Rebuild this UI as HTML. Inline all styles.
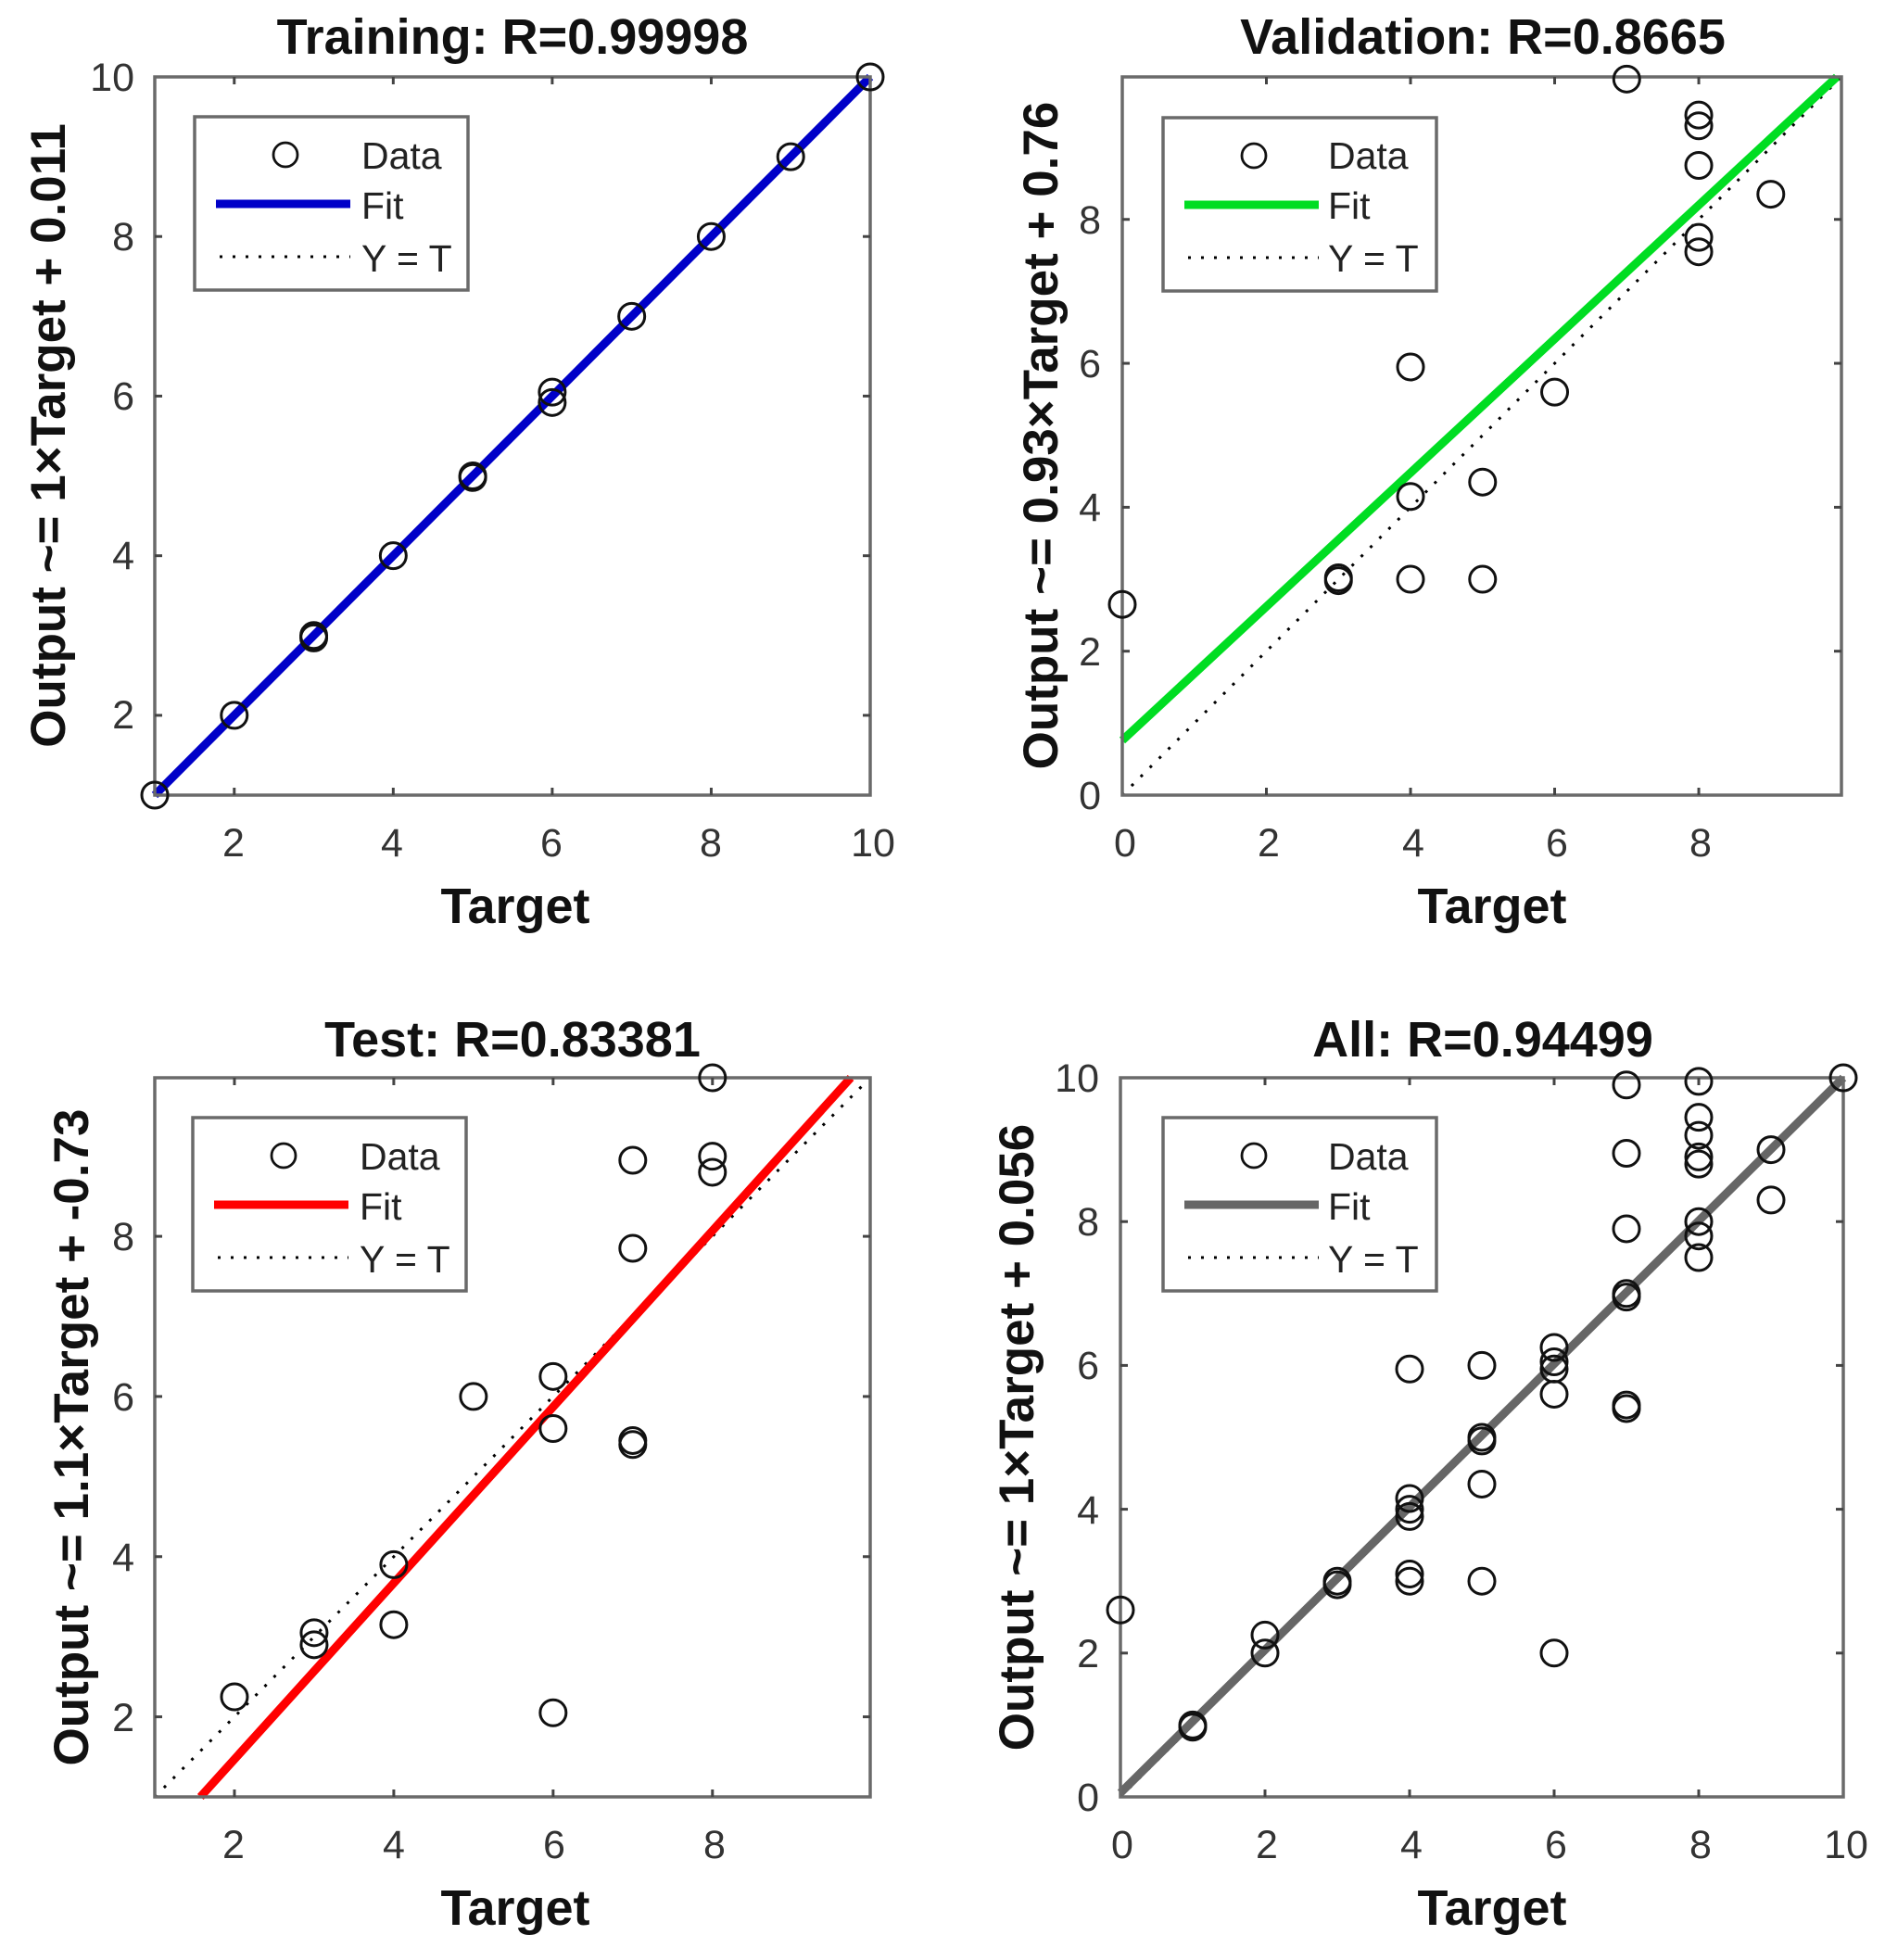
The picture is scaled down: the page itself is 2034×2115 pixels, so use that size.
<!DOCTYPE html>
<html><head><meta charset="utf-8"><style>
html,body{margin:0;padding:0;background:#fff;}
svg{display:block;font-family:"Liberation Sans",Arial,sans-serif;}
.tk{font-size:43px;fill:#333;}
.tt{font-size:54px;font-weight:bold;fill:#111;}
.yl{font-size:53px;font-weight:bold;fill:#111;}
.lg{font-size:41px;fill:#222;}
</style></head><body>
<svg id="s" width="2034" height="2115" viewBox="0 0 2034 2115" xmlns="http://www.w3.org/2000/svg">
<rect width="2034" height="2115" fill="#fff"/>
<text class="tt" x="553" y="58" text-anchor="middle">Training: R=0.99998</text>
<text class="tt" x="1600" y="58" text-anchor="middle">Validation: R=0.8665</text>
<text class="tt" x="553" y="1140" text-anchor="middle">Test: R=0.83381</text>
<text class="tt" x="1600" y="1140" text-anchor="middle">All: R=0.94499</text>
<text class="tt" x="556" y="996" text-anchor="middle">Target</text>
<text class="tt" x="1610" y="996" text-anchor="middle">Target</text>
<text class="tt" x="556" y="2077" text-anchor="middle">Target</text>
<text class="tt" x="1610" y="2077" text-anchor="middle">Target</text>
<text class="yl" transform="translate(70,470) rotate(-90)" text-anchor="middle">Output ~= 1×Target + 0.011</text>
<text class="yl" transform="translate(1141,470) rotate(-90)" text-anchor="middle">Output ~= 0.93×Target + 0.76</text>
<text class="yl" transform="translate(95,1551) rotate(-90)" text-anchor="middle">Output ~= 1.1×Target + -0.73</text>
<text class="yl" transform="translate(1115,1551) rotate(-90)" text-anchor="middle">Output ~= 1×Target + 0.056</text>
<g class="tk" text-anchor="middle">
<text x="252" y="924">2</text><text x="423" y="924">4</text><text x="595" y="924">6</text><text x="767" y="924">8</text><text x="942" y="924">10</text>
<text x="1214" y="924">0</text><text x="1369" y="924">2</text><text x="1525" y="924">4</text><text x="1680" y="924">6</text><text x="1835" y="924">8</text>
<text x="252" y="2005">2</text><text x="425" y="2005">4</text><text x="598" y="2005">6</text><text x="771" y="2005">8</text>
<text x="1211" y="2005">0</text><text x="1367" y="2005">2</text><text x="1523" y="2005">4</text><text x="1679" y="2005">6</text><text x="1835" y="2005">8</text><text x="1992" y="2005">10</text>
</g>
<g class="tk" text-anchor="end">
<text x="145" y="98">10</text><text x="145" y="270">8</text><text x="145" y="442">6</text><text x="145" y="614">4</text><text x="145" y="786">2</text>
<text x="1188" y="252">8</text><text x="1188" y="407">6</text><text x="1188" y="562">4</text><text x="1188" y="718">2</text><text x="1188" y="873">0</text>
<text x="145" y="1349">8</text><text x="145" y="1522">6</text><text x="145" y="1695">4</text><text x="145" y="1868">2</text>
<text x="1186" y="1178">10</text><text x="1186" y="1333">8</text><text x="1186" y="1488">6</text><text x="1186" y="1644">4</text><text x="1186" y="1799">2</text><text x="1186" y="1954">0</text>
</g>
<g class="lg">
<text x="390" y="182">Data</text><text x="390" y="236">Fit</text><text x="390" y="293">Y = T</text>
<text x="1433" y="182">Data</text><text x="1433" y="236">Fit</text><text x="1433" y="293">Y = T</text>
<text x="388" y="1262">Data</text><text x="388" y="1316">Fit</text><text x="388" y="1373">Y = T</text>
<text x="1433" y="1262">Data</text><text x="1433" y="1316">Fit</text><text x="1433" y="1373">Y = T</text>
</g>
<g id="g"></g>
</svg>
<script>
var NS="http://www.w3.org/2000/svg",G=document.getElementById("g");
function el(t,a){var e=document.createElementNS(NS,t);for(var k in a)e.setAttribute(k,a[k]);G.appendChild(e);return e;}
function panel(p){
 var sx=function(v){return p.L+(v-p.x0)/(p.x1-p.x0)*(p.R-p.L);};
 var sy=function(v){return p.B-(v-p.y0)/(p.y1-p.y0)*(p.B-p.T);};
 el("line",{x1:sx(p.d[0]),y1:sy(p.d[0]),x2:sx(p.d[1]),y2:sy(p.d[1]),stroke:"#000","stroke-width":3,"stroke-dasharray":"3,11"});
 el("line",{x1:sx(p.f[0]),y1:sy(p.f[1]),x2:sx(p.f[2]),y2:sy(p.f[3]),stroke:p.c,"stroke-width":9});
 el("rect",{x:p.L,y:p.T,width:p.R-p.L,height:p.B-p.T,fill:"none",stroke:"#6a6a6a","stroke-width":3.5});
 p.xt.forEach(function(v){var x=sx(v);el("line",{x1:x,y1:p.B,x2:x,y2:p.B-8,stroke:"#444","stroke-width":3});el("line",{x1:x,y1:p.T,x2:x,y2:p.T+8,stroke:"#444","stroke-width":3});});
 p.yt.forEach(function(v){var y=sy(v);el("line",{x1:p.L,y1:y,x2:p.L+8,y2:y,stroke:"#444","stroke-width":3});el("line",{x1:p.R,y1:y,x2:p.R-8,y2:y,stroke:"#444","stroke-width":3});});
 p.pts.forEach(function(q){el("circle",{cx:sx(q[0]),cy:sy(q[1]),r:14,fill:"none",stroke:"#111","stroke-width":3});});
 var lx=p.lg[0],ly=p.lg[1];
 el("rect",{x:lx,y:ly,width:295,height:187,fill:"none",stroke:"#6a6a6a","stroke-width":3.5});
 el("circle",{cx:lx+98,cy:ly+41,r:13,fill:"none",stroke:"#111","stroke-width":2.8});
 el("line",{x1:lx+23,y1:ly+94,x2:lx+168,y2:ly+94,stroke:p.c,"stroke-width":9});
 el("line",{x1:lx+27,y1:ly+151,x2:lx+168,y2:ly+151,stroke:"#000","stroke-width":3,"stroke-dasharray":"3,11"});
}
panel({L:167,R:939,T:83,B:858,x0:1,x1:10,y0:1,y1:10,c:"#0000c8",d:[1,10],f:[1,1,10,10],
 xt:[2,4,6,8],yt:[2,4,6,8],lg:[210,126],
 pts:[[1,1],[2,2],[3,3],[3,2.97],[4,4],[5,5],[5,4.98],[6,6.05],[6,5.92],[7,7],[8,8],[9,9],[10,10]]});
panel({L:1211,R:1987,T:83,B:858,x0:0,x1:9.98,y0:0,y1:9.98,c:"#00dd22",d:[0,9.98],f:[0,0.76,9.916,9.98],
 xt:[2,4,6,8],yt:[2,4,6,8],lg:[1255,127],
 pts:[[0,2.65],[3,3.02],[3,2.98],[4,5.95],[4,4.15],[4,3.0],[5,4.35],[5,3.0],[6,5.6],[7,9.95],[8,9.45],[8,9.3],[8,8.75],[8,7.75],[8,7.55],[9,8.35]]});
panel({L:167,R:939,T:1163,B:1939,x0:1,x1:9.98,y0:1,y1:9.98,c:"#ff0000",d:[1,9.98],f:[1.573,1,9.736,9.98],
 xt:[2,4,6,8],yt:[2,4,6,8],lg:[208,1206],
 pts:[[2,2.25],[3,3.05],[3,2.9],[4,3.9],[4,3.15],[5,6.0],[6,6.25],[6,5.6],[6,2.05],[7,8.95],[7,7.85],[7,5.45],[7,5.4],[8,9.98],[8,9.0],[8,8.8]]});
panel({L:1209,R:1989,T:1163,B:1939,x0:0,x1:10,y0:0,y1:10,c:"#666666",d:[0,10],f:[0,0.056,10,10],
 xt:[2,4,6,8],yt:[2,4,6,8],lg:[1255,1206],
 pts:[[0,2.6],[1,1],[1,0.97],[2,2.25],[2,2.0],[3,3.0],[3,2.95],[4,5.95],[4,4.15],[4,4.0],[4,3.9],[4,3.1],[4,3.0],[5,6.0],[5,5.0],[5,4.95],[5,4.35],[5,3.0],[6,6.25],[6,6.05],[6,5.95],[6,5.6],[6,2.0],[7,9.9],[7,8.95],[7,7.9],[7,7.0],[7,6.95],[7,5.45],[7,5.4],[8,9.95],[8,9.45],[8,9.2],[8,8.9],[8,8.8],[8,8.0],[8,7.8],[8,7.5],[9,9.0],[9,8.3],[10,10]]});
</script>
</body></html>
